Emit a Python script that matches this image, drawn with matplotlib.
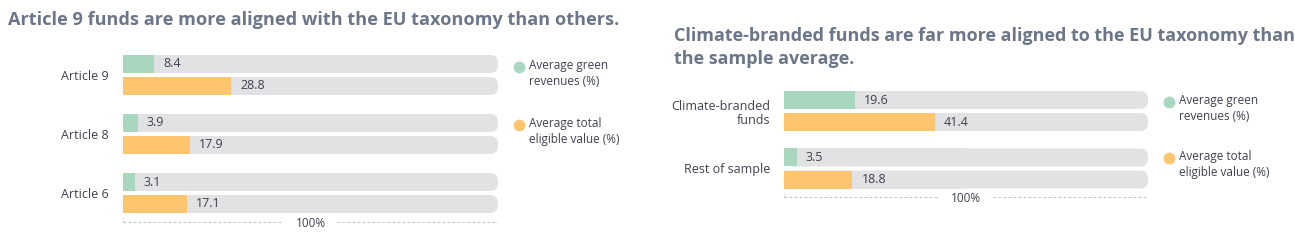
import matplotlib.pyplot as plt
from matplotlib.patches import FancyBboxPatch
from matplotlib.lines import Line2D

plt.rcParams['font.family'] = ['Open Sans', 'DejaVu Sans']

# left chart data
left_title = "Article 9 funds are more aligned with the EU taxonomy than others."
left_cats = ["Article 9", "Article 8", "Article 6"]
left_green = [8.4, 3.9, 3.1]
left_orange = [28.8, 17.9, 17.1]

# right chart data
right_title = "Climate-branded funds are far more aligned to the EU taxonomy than\nthe sample average."
right_cats = ["Climate-branded\nfunds", "Rest of sample"]
right_green = [19.6, 3.5]
right_orange = [41.4, 18.8]

legend_labels = ["Average green\nrevenues (%)", "Average total\neligible value (%)"]

GREEN = "#a8d6be"
ORANGE = "#fec56e"
TRACK = "#e1e2e4"
TEXT = "#3d4250"
TITLE = "#6c7689"
DASH = "#c3c5c9"

W, H = 1295, 249
fig = plt.figure(figsize=(W / 100, H / 100), dpi=100)


def fx(px):
    return px / W


def fy(px):
    return 1 - px / H


def draw_panel(cats, green, orange, x0, x1, top, first_c, step, bottom, dash_y, leg_x, leg_y, leg_step):
    ax = fig.add_axes([fx(x0), fy(bottom), (x1 - x0) / W, (bottom - top) / H])
    ax.set_xlim(0, 100)
    ax.set_ylim((bottom - first_c) / step, -(first_c - top) / step)
    for s in ax.spines.values():
        s.set_visible(False)
    ax.set_xticks([])

    off = 11 / step
    h = 18 / step
    r = 8 * 100 / (x1 - x0)
    asp = (1 / step) / (100 / (x1 - x0))

    for i in range(len(cats)):
        for yy in (i - off, i + off):
            ax.barh(yy, 50, height=h, color=TRACK, zorder=1)
            ax.add_patch(FancyBboxPatch((0, yy - h / 2), 100, h,
                                        boxstyle=f"round,pad=0,rounding_size={r}",
                                        mutation_aspect=asp, fc=TRACK, ec="none", zorder=1))
        ax.barh(i - off, green[i], height=h, color=GREEN, zorder=2)
        ax.barh(i + off, orange[i], height=h, color=ORANGE, zorder=2)
        ax.annotate(f"{green[i]}", (green[i], i - off), xytext=(6.5, 0), textcoords="offset points",
                    va="center", ha="left", fontsize=9, color=TEXT, zorder=3)
        ax.annotate(f"{orange[i]}", (orange[i], i + off), xytext=(6.5, 0), textcoords="offset points",
                    va="center", ha="left", fontsize=9, color=TEXT, zorder=3)

    ax.set_yticks(range(len(cats)), cats)
    ax.tick_params(axis="y", length=0, pad=10, labelsize=9, labelcolor=TEXT)

    # 100% bracket with a gap for the label
    yd = (dash_y - first_c) / step
    tick = 4 / step
    gap = 27 * 100 / (x1 - x0)
    dash_kw = dict(color=DASH, lw=0.8, ls=(0, (2.5, 2)), zorder=1)
    ax.plot([0, 50 - gap], [yd, yd], **dash_kw)
    ax.plot([50 + gap, 100], [yd, yd], **dash_kw)
    ax.plot([0, 0], [yd, yd - tick], color=DASH, lw=0.8, ls=(0, (1.5, 1.5)))
    ax.plot([100, 100], [yd, yd - tick], color=DASH, lw=0.8, ls=(0, (1.5, 1.5)))
    ax.text(50, yd + 1.5 / step, "100%", ha="center", va="center", fontsize=8.5, color=TEXT, zorder=3)

    # legend
    for k, (lab, col) in enumerate(zip(legend_labels, [GREEN, ORANGE])):
        cy = leg_y + k * leg_step
        fig.add_artist(Line2D([fx(leg_x)], [fy(cy)], marker="o", ms=8.5, color=col, mec="none",
                              transform=fig.transFigure))
        fig.text(fx(leg_x + 10), fy(cy + 6.5), lab, ha="left", va="center", fontsize=8.5,
                 color=TEXT, linespacing=1.25)
    return ax


draw_panel(left_cats, left_green, left_orange, 123, 498, 50, 75, 59, 228, 222, 519, 67, 58)
draw_panel(right_cats, right_green, right_orange, 784, 1148, 80, 111, 57.5, 205, 197, 1169, 102, 56)

fig.text(fx(8), fy(20), left_title, ha="left", va="center", fontsize=13.1, fontweight="bold", color=TITLE)
fig.text(fx(674), fy(47.5), right_title, ha="left", va="center", fontsize=13, fontweight="bold",
         color=TITLE, linespacing=1.35)

fig.savefig("out.png", dpi=100, facecolor="white")
